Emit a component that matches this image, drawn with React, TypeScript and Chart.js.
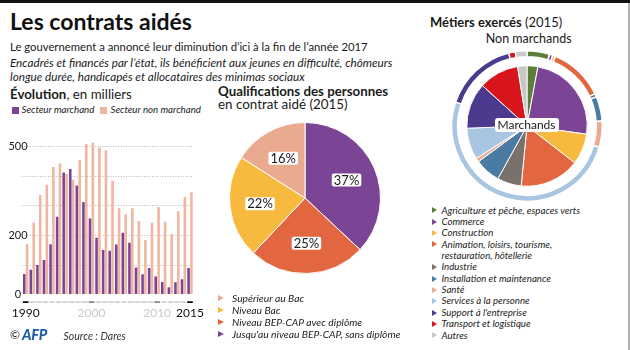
import React, { useEffect, useRef } from "react";
import { Chart, registerables } from "chart.js";

Chart.register(...registerables);

const FONT = "Lato, 'Open Sans', sans-serif";

// ---------- Évolution (milliers) ----------
const years = [
  "1990", "1991", "1992", "1993", "1994", "1995", "1996", "1997", "1998", "1999",
  "2000", "2001", "2002", "2003", "2004", "2005", "2006", "2007", "2008", "2009",
  "2010", "2011", "2012", "2013", "2014", "2015",
];
const secteurMarchand = [
  70, 84, 100, 117, 170, 263, 413, 425, 369, 313,
  257, 192, 151, 148, 169, 209, 175, 92, 69, 90,
  61, 43, 25, 42, 52, 90,
];
const secteurNonMarchand = [
  172, 244, 337, 371, 431, 443, 408, 388, 455, 509,
  513, 497, 488, 385, 292, 272, 292, 249, 185, 243,
  296, 246, 204, 282, 331, 346,
];
const yTickLabels = [0, 200, 500];
const xTickLabels = ["1990", "2000", "2010", "2015"];
const xTickDark = ["1990", "2015"];

// ---------- Qualifications ----------
const qualifLabels = [
  "Jusqu'au niveau BEP-CAP, sans diplôme",
  "Niveau BEP-CAP avec diplôme",
  "Niveau Bac",
  "Supérieur au Bac",
];
const qualifValues = [37, 25, 22, 16];
const qualifLegendOrder = [3, 2, 1, 0];

// ---------- Métiers exercés ----------
const metiers = [
  "Agriculture et pêche, espaces verts",
  "Commerce",
  "Construction",
  "Animation, loisirs, tourisme, restauration, hôtellerie",
  "Industrie",
  "Installation et maintenance",
  "Santé",
  "Services à la personne",
  "Support à l'entreprise",
  "Transport et logistique",
  "Autres",
];
const metiersLegendLines = [
  ["Agriculture et pêche, espaces verts"],
  ["Commerce"],
  ["Construction"],
  ["Animation, loisirs, tourisme,", "restauration, hôtellerie"],
  ["Industrie"],
  ["Installation et maintenance"],
  ["Santé"],
  ["Services à la personne"],
  ["Support à l'entreprise"],
  ["Transport et logistique"],
  ["Autres"],
];
const marchands = [2.9, 24.3, 8.3, 16.1, 6.5, 6.9, 1.0, 8.5, 12.3, 10.8, 2.5];
const nonMarchands = [4.9, 0.7, 0.6, 11.8, 0.7, 5.3, 5.6, 50.7, 16.0, 1.4, 2.5];

// ---------- styles ----------
const C_PURPLE = "#7c4495";
const C_ORANGE = "#e2663f";
const C_YELLOW = "#f8b93f";
const C_PINK = "#eaaa90";
const BAR_PURPLE = "#7c4495";
const BAR_PINK = "#efb6a0";
const qualifColors = [C_PURPLE, C_ORANGE, C_YELLOW, C_PINK];
const metierColors = [
  "#5b7f3a", "#7c4495", "#f8b93f", "#e2663f", "#7b716b", "#4a7ca3",
  "#eaaa90", "#a8c6e2", "#4b3a8e", "#d8141c", "#c8c8c8",
];

const T = ({ x, base, size, children, style }: any) => (
  <div
    style={{
      position: "absolute",
      left: x,
      top: base - 0.887 * size,
      fontSize: size,
      lineHeight: 1,
      whiteSpace: "nowrap",
      fontFamily: FONT,
      color: "#1a1a1a",
      ...style,
    }}
  >
    {children}
  </div>
);

const Tri = ({ color, left, top, w = 6, h = 7 }: any) => (
  <div
    style={{
      position: "absolute",
      left,
      top,
      width: 0,
      height: 0,
      borderTop: `${h / 2}px solid transparent`,
      borderBottom: `${h / 2}px solid transparent`,
      borderLeft: `${w}px solid ${color}`,
    }}
  />
);

const tickDashes = {
  id: "tickDashes",
  afterDraw(chart: any) {
    const xs = chart.scales.x;
    const ctx = chart.ctx;
    const y = xs.top + 7.5;
    ctx.save();
    ctx.lineWidth = 1.8;
    years.forEach((yr, i) => {
      const x = xs.getPixelForValue(i);
      ctx.strokeStyle = xTickDark.includes(yr)
        ? "#111"
        : xTickLabels.includes(yr)
        ? "#8a8a8a"
        : "#d2d2d2";
      ctx.beginPath();
      ctx.moveTo(x - 2.8, y);
      ctx.lineTo(x + 2.8, y);
      ctx.stroke();
    });
    ctx.restore();
  },
};

const pieLabels = {
  id: "pieLabels",
  afterDatasetsDraw(chart: any) {
    const meta = chart.getDatasetMeta(0);
    const ctx = chart.ctx;
    ctx.save();
    ctx.font = `13px ${FONT}`;
    ctx.textAlign = "center";
    ctx.textBaseline = "middle";
    meta.data.forEach((arc: any, i: number) => {
      const p = arc.getProps(["startAngle", "endAngle", "outerRadius", "x", "y"], true);
      const a = (p.startAngle + p.endAngle) / 2;
      const r = p.outerRadius * 0.6;
      const cx = p.x + Math.cos(a) * r;
      const cy = p.y + Math.sin(a) * r;
      const txt = `${qualifValues[i]}%`;
      const w = ctx.measureText(txt).width + 4;
      const h = 13;
      ctx.fillStyle = "#fff";
      ctx.beginPath();
      (ctx as any).roundRect(cx - w / 2, cy - h / 2, w, h, 2);
      ctx.fill();
      ctx.fillStyle = "#1a1a1a";
      ctx.fillText(txt, cx, cy + 0.5);
    });
    ctx.restore();
  },
};

export default function App() {
  const barRef = useRef<HTMLCanvasElement>(null);
  const pieRef = useRef<HTMLCanvasElement>(null);
  const donutRef = useRef<HTMLCanvasElement>(null);

  useEffect(() => {
    const charts: Chart[] = [];
    if (barRef.current) {
      charts.push(
        new Chart(barRef.current, {
          type: "bar",
          data: {
            labels: years,
            datasets: [
              {
                label: "Secteur marchand",
                data: secteurMarchand,
                backgroundColor: BAR_PURPLE,
                categoryPercentage: 0.87,
                barPercentage: 0.9,
              },
              {
                label: "Secteur non marchand",
                data: secteurNonMarchand,
                backgroundColor: BAR_PINK,
                categoryPercentage: 0.87,
                barPercentage: 0.9,
              },
            ],
          },
          options: {
            animation: false,
            responsive: false,
            maintainAspectRatio: false,
            events: [],
            layout: { padding: { left: 0, right: 16.7, top: 10.8, bottom: 0 } },
            plugins: { legend: { display: false }, tooltip: { enabled: false } },
            scales: {
              x: {
                grid: { display: false },
                border: { display: false },
                ticks: {
                  autoSkip: false,
                  maxRotation: 0,
                  padding: 3,
                  font: { family: FONT, size: 12 },
                  color: (c: any) =>
                    xTickDark.includes(years[c.index]) ? "#111" : "#c9c9c9",
                  callback: (_v: any, i: number) =>
                    xTickLabels.includes(years[i]) ? years[i] : "",
                },
                afterFit: (s: any) => {
                  s.height = 35.4;
                },
              } as any,
              y: {
                min: 0,
                max: 520,
                ticks: {
                  stepSize: 100,
                  includeBounds: false,
                  mirror: true,
                  padding: -14,
                  crossAlign: "center",
                  font: { family: FONT, size: 11 },
                  color: "#1a1a1a",
                  callback: (v: any) => (yTickLabels.includes(Number(v)) ? String(v) : ""),
                },
                grid: {
                  drawTicks: false,
                  lineWidth: 1,
                  color: (c: any) => (c.tick && c.tick.value === 0 ? "rgba(0,0,0,0)" : "#b5b5b5"),
                },
                border: { display: false, dash: [1, 1.6] },
                afterFit: (s: any) => {
                  s.width = 22.4;
                },
              } as any,
            },
          },
          plugins: [tickDashes],
        })
      );
    }
    if (pieRef.current) {
      charts.push(
        new Chart(pieRef.current, {
          type: "pie",
          data: {
            labels: qualifLabels,
            datasets: [
              {
                data: qualifValues,
                backgroundColor: qualifColors,
                borderColor: "#ffffff",
                borderWidth: 1,
                hoverBorderWidth: 1,
                hoverOffset: 0,
              },
            ],
          },
          options: {
            animation: false,
            responsive: false,
            events: [],
            layout: { padding: 0 },
            plugins: { legend: { display: false }, tooltip: { enabled: false } },
          },
          plugins: [pieLabels],
        })
      );
    }
    if (donutRef.current) {
      charts.push(
        new Chart(donutRef.current, {
          type: "doughnut",
          data: {
            labels: metiers,
            datasets: [
              {
                label: "Non marchands",
                data: nonMarchands,
                backgroundColor: metierColors,
                borderColor: "#ffffff",
                borderWidth: 1.5,
                hoverBorderWidth: 1.5,
                hoverOffset: 0,
                weight: 6,
              } as any,
              {
                label: "",
                data: [1],
                backgroundColor: "rgba(0,0,0,0)",
                borderWidth: 0,
                hoverBorderWidth: 0,
                hoverOffset: 0,
                weight: 9,
              } as any,
              {
                label: "Marchands",
                data: marchands,
                backgroundColor: metierColors,
                borderColor: "#ffffff",
                borderWidth: 1,
                hoverBorderWidth: 1,
                hoverOffset: 0,
                weight: 60,
              } as any,
            ],
          },
          options: {
            animation: false,
            responsive: false,
            events: [],
            cutout: 0,
            layout: { padding: 0 },
            plugins: { legend: { display: false }, tooltip: { enabled: false } },
          } as any,
        })
      );
    }
    return () => charts.forEach((c) => c.destroy());
  }, []);

  return (
    <div
      style={{
        position: "absolute",
        left: 0,
        top: 0,
        width: 630,
        height: 350,
        background: "#fff",
        overflow: "hidden",
        fontFamily: FONT,
      }}
    >
      <div style={{ position: "absolute", left: 0, top: 0, width: 630, height: 3, background: "#111" }} />
      <div style={{ position: "absolute", left: 628, top: 3, width: 2, height: 347, background: "#b0b0b0" }} />

      <T x={10} base={30} size={23} style={{ fontWeight: 700, color: "#111" }}>
        Les contrats aidés
      </T>
      <T x={10} base={51} size={11.3}>
        Le gouvernement a annoncé leur diminution d’ici à la fin de l’année 2017
      </T>
      <T x={10} base={67} size={11.7} style={{ fontStyle: "italic" }}>
        Encadrés et financés par l’état, ils bénéficient aux jeunes en difficulté, chômeurs
      </T>
      <T x={10} base={81} size={11.7} style={{ fontStyle: "italic" }}>
        longue durée, handicapés et allocataires des minimas sociaux
      </T>

      <T x={10} base={100} size={13.3}>
        <span style={{ fontWeight: 700 }}>Évolution</span>, en milliers
      </T>
      <div style={{ position: "absolute", left: 11.5, top: 107, width: 7, height: 7, background: BAR_PURPLE }} />
      <T x={21.5} base={114} size={9.7} style={{ fontStyle: "italic" }}>
        Secteur marchand
      </T>
      <div style={{ position: "absolute", left: 100, top: 107, width: 7, height: 7, background: BAR_PINK }} />
      <T x={110.5} base={114} size={9.7} style={{ fontStyle: "italic" }}>
        Secteur non marchand
      </T>

      <canvas
        ref={barRef}
        width={210}
        height={200}
        style={{ position: "absolute", left: 0, top: 130, width: 210, height: 200 }}
      />

      <T x={10} base={340} size={12}>©</T>
      <T
        x={22}
        base={340.5}
        size={14.5}
        style={{ fontWeight: 900, fontStyle: "italic", color: "#1d5fae", letterSpacing: -0.3 }}
      >
        AFP
      </T>
      <T x={63.5} base={340} size={10.5} style={{ fontStyle: "italic", color: "#333" }}>
        Source : Dares
      </T>

      <T x={218} base={97} size={13.3} style={{ fontWeight: 700 }}>
        Qualifications des personnes
      </T>
      <T x={218} base={110} size={13.4}>
        en contrat aidé (2015)
      </T>
      <canvas
        ref={pieRef}
        width={152}
        height={152}
        style={{ position: "absolute", left: 229, top: 122, width: 152, height: 152 }}
      />
      {qualifLegendOrder.map((idx, k) => (
        <React.Fragment key={idx}>
          <Tri color={qualifColors[idx]} left={217.5} top={298.5 + 12 * k - 3.5} />
          <T x={232} base={298.5 + 12 * k + 3.6} size={10.3} style={{ fontStyle: "italic", color: "#222" }}>
            {qualifLabels[idx]}
          </T>
        </React.Fragment>
      ))}

      <T x={430} base={28} size={13}>
        <span style={{ fontWeight: 700 }}>Métiers exercés</span> (2015)
      </T>
      <T x={528.7} base={44} size={12.5} style={{ transform: "translateX(-50%)" }}>
        Non marchands
      </T>
      <canvas
        ref={donutRef}
        width={152}
        height={152}
        style={{ position: "absolute", left: 450.5, top: 49.5, width: 152, height: 152 }}
      />
      <div
        style={{
          position: "absolute",
          left: 526.5,
          top: 125,
          transform: "translate(-50%, -50%)",
          background: "#fff",
          borderRadius: 3,
          padding: "1px 3px",
          fontSize: 12,
          lineHeight: "12px",
          fontFamily: FONT,
          color: "#1a1a1a",
          whiteSpace: "nowrap",
        }}
      >
        Marchands
      </div>
      {(() => {
        let line = 0;
        return metiersLegendLines.map((lines, i) => {
          const start = line;
          line += lines.length;
          const cy = 210.7 + 11.35 * start;
          return (
            <React.Fragment key={i}>
              <Tri color={metierColors[i]} left={432} top={cy - 3.3} w={5.6} h={6.6} />
              {lines.map((l, j) => (
                <T
                  key={j}
                  x={441.5}
                  base={cy + 11.35 * j + 3.6}
                  size={9.7}
                  style={{ fontStyle: "italic", color: "#222" }}
                >
                  {l}
                </T>
              ))}
            </React.Fragment>
          );
        });
      })()}
    </div>
  );
}
